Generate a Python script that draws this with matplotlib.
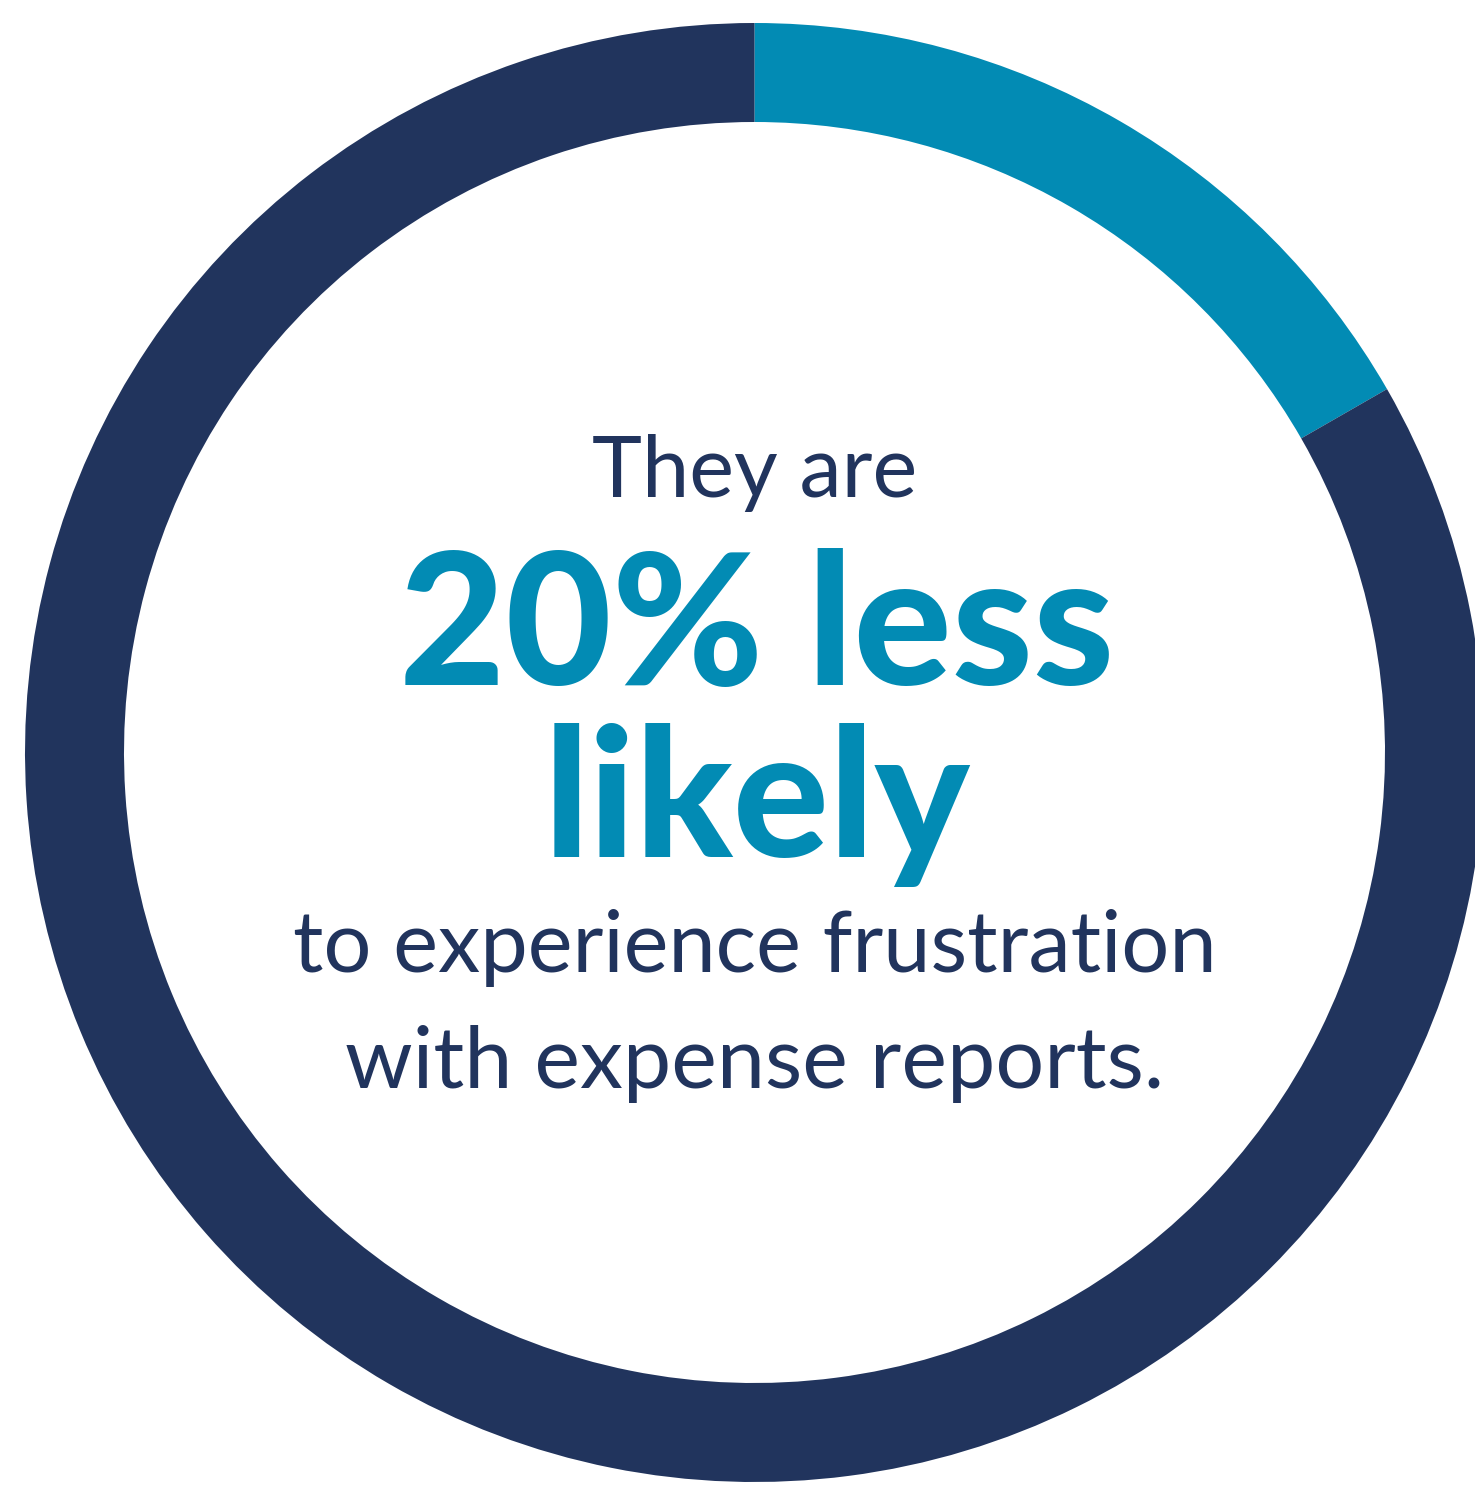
import matplotlib.pyplot as plt

# Ring data (share of the circle in percent)
segments = ['highlight', 'rest']
shares = [16.7, 83.3]
colors = ['#028BB4', '#21345D']

# Text lines
line_top = "They are"
line_big1 = "20% less"
line_big2 = "likely"
line_bottom1 = "to experience frustration"
line_bottom2 = "with expense reports."

W, H = 1475, 1485
fig = plt.figure(figsize=(W / 100, H / 100), dpi=100)
ax = fig.add_axes([0, 0, 1, 1])

cx, cy = 754.5, H - 752.5
ax.pie(shares, colors=colors, startangle=90, counterclock=False,
       radius=729.5, center=(cx, cy),
       wedgeprops=dict(width=99, linewidth=0))

ax.set_xlim(0, W)
ax.set_ylim(0, H)
ax.set_aspect('equal')
ax.axis('off')

navy = '#21345D'
blue = '#028BB4'
ax.text(cx, H - 497, line_top, ha='center', va='baseline',
        fontsize=61, color=navy, family='Lato')
ax.text(cx + 2, H - 685, line_big1, ha='center', va='baseline',
        fontsize=132, color=blue, family='Lato', weight='black')
ax.text(cx + 2, H - 857, line_big2, ha='center', va='baseline',
        fontsize=129, color=blue, family='Lato', weight='black')
ax.text(cx, H - 972, line_bottom1, ha='center', va='baseline',
        fontsize=61, color=navy, family='Lato')
ax.text(cx, H - 1088, line_bottom2, ha='center', va='baseline',
        fontsize=62, color=navy, family='Lato')

fig.savefig('out.png', dpi=100, facecolor='white')
